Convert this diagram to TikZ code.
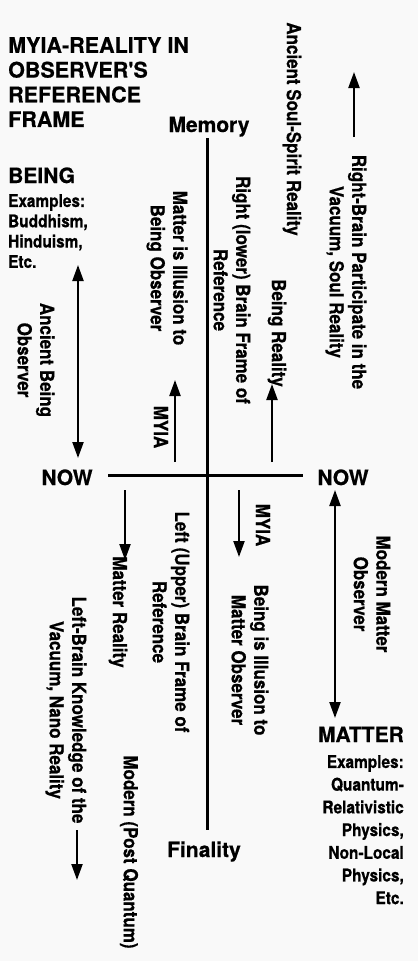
\documentclass[tikz,border=0pt]{standalone}
\usepackage{fontspec}
\setmainfont{TeX Gyre Heros}
\newfontfamily\condfont{TeX Gyre Heros}[FakeStretch=0.88, FakeBold=0.6]
\newfontfamily\headfont{TeX Gyre Heros}[FakeBold=0.5]
\usetikzlibrary{arrows.meta}
\begin{document}
\begin{tikzpicture}[x=1pt,y=-1pt,
  lbl/.style={font=\condfont\bfseries\fontsize{19.3}{22.5}\selectfont, align=center, inner sep=0pt},
  vlbl/.style={lbl, rotate=-90},
  head/.style={font=\headfont\bfseries\fontsize{21}{24}\selectfont, inner sep=0pt},
  titlestyle/.style={font=\headfont\bfseries\fontsize{21.5}{24.7}\selectfont, inner sep=0pt, align=left},
  exleft/.style={font=\condfont\bfseries\fontsize{17.5}{20.3}\selectfont, inner sep=0pt, align=left},
  exright/.style={font=\condfont\bfseries\fontsize{17.5}{22.7}\selectfont, inner sep=0pt, align=right},
  arr/.style={line width=2.2pt, -{Triangle[length=16pt,width=11pt]}},
  darr/.style={line width=2.2pt, {Triangle[length=16pt,width=11pt]}-{Triangle[length=16pt,width=11pt]}},
  axisline/.style={line width=3pt}]
\fill[white!95!gray] (0,0) rectangle (418,961);
\useasboundingbox (0,0) rectangle (418,961);

% title and headings
\node[titlestyle, anchor=north west] (title) at (8,37) {MYIA-REALITY IN\\OBSERVER'S\\REFERENCE\\FRAME};
\node[head, anchor=base] (memory) at (209,132) {Memory};
\node[head, anchor=base] (finality) at (204,857) {Finality};
\node[head, anchor=base] (nowl) at (67,485) {NOW};
\node[head, anchor=base] (nowr) at (343,485) {NOW};
\node[head, anchor=base west] (being) at (8,183) {BEING};
\node[exleft, anchor=north west] (beingex) at (8,194) {Examples:\\Buddhism,\\Hinduism,\\Etc.};
\node[head, anchor=base east] (matter) at (404,742) {MATTER};
\node[exright, anchor=north east] (matterex) at (404,755) {Examples:\\Quantum-\\Relativistic\\Physics,\\Non-Local\\Physics,\\Etc.};

% axes
\coordinate (vtop) at (207,138);
\coordinate (vbot) at (207,830);
\coordinate (hl) at (108,475);
\coordinate (hr) at (303,475);
\draw[axisline] (vtop) -- (vbot);
\draw[axisline] (hl) -- (hr);

% rotated labels
\node[vlbl] (soul) at (292,129) {Ancient Soul-Spirit Reality};
\node[vlbl] (rbrain) at (346,272) {Right-Brain Participate in the\\Vacuum, Soul Reality};
\node[vlbl] (rlower) at (232,290) {Right (lower) Brain Frame of\\Reference};
\node[vlbl] (beingreal) at (277,333) {Being Reality};
\node[vlbl] (mattill) at (167,268) {Matter is Illusion to\\Being Observer};
\node[vlbl] (myiaup) at (161,427) {MYIA};
\node[vlbl] (ancient) at (36,360) {Ancient Being\\Observer};
\node[vlbl] (mattreal) at (118,612) {Matter Reality};
\node[vlbl] (lupper) at (171,622) {Left (Upper) Brain Frame of\\Reference};
\node[vlbl] (modpq) at (129,852) {Modern (Post Quantum)};
\node[vlbl] (lbrain) at (66,710) {Left-Brain Knowledge of the\\Vacuum, Nano Reality};
\node[vlbl] (myialow) at (263,525) {MYIA};
\node[vlbl] (beingill) at (250,660) {Being is Illusion to\\Matter Observer};
\node[vlbl] (modmat) at (372,594) {Modern Matter\\Observer};

% arrows
\coordinate (a1s) at (354,137); \coordinate (a1e) at (354,72);
\coordinate (a2s) at (272,462); \coordinate (a2e) at (272,384);
\coordinate (a3s) at (175,462); \coordinate (a3e) at (175,380);
\coordinate (a4s) at (78,265);  \coordinate (a4e) at (78,458);
\coordinate (a5s) at (125,490); \coordinate (a5e) at (125,560);
\coordinate (a6s) at (239,490); \coordinate (a6e) at (239,557);
\coordinate (a7s) at (335,490); \coordinate (a7e) at (335,718);
\coordinate (a8s) at (77,830);  \coordinate (a8e) at (77,880);
\draw[arr] (a1s) -- (a1e);
\draw[arr] (a2s) -- (a2e);
\draw[arr] (a3s) -- (a3e);
\draw[darr] (a4s) -- (a4e);
\draw[arr] (a5s) -- (a5e);
\draw[arr] (a6s) -- (a6e);
\draw[darr] (a7s) -- (a7e);
\draw[arr] (a8s) -- (a8e);
\end{tikzpicture}
\end{document}
